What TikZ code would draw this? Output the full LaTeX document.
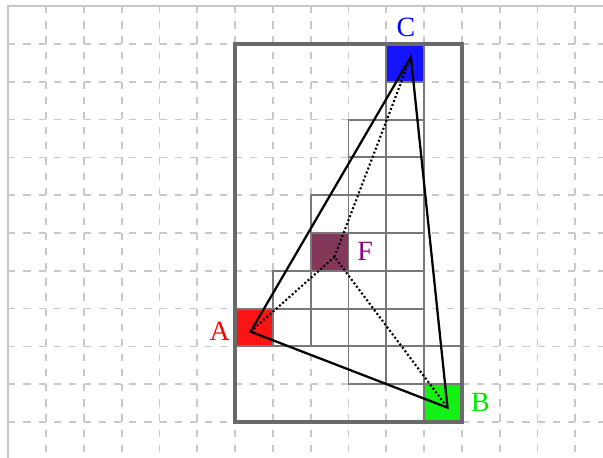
\documentclass[tikz,border=0pt]{standalone}
\usepackage{fontspec}
\setmainfont{Liberation Serif}
\definecolor{gridgray}{RGB}{200,200,200}
\definecolor{cellgray}{RGB}{120,120,120}
\definecolor{rectgray}{RGB}{105,105,105}
\definecolor{fillA}{RGB}{255,20,20}
\definecolor{fillB}{RGB}{20,240,20}
\definecolor{fillC}{RGB}{20,20,255}
\definecolor{fillF}{RGB}{131,56,90}
\definecolor{txtA}{RGB}{255,0,0}
\definecolor{txtB}{RGB}{0,230,0}
\definecolor{txtC}{RGB}{0,0,255}
\definecolor{txtF}{RGB}{140,0,140}
\begin{document}
\begin{tikzpicture}[x=1cm,y=-1cm,
  gridline/.style={draw=gridgray, line width=1.3pt, dash pattern=on 0.19cm off 0.21cm},
  border/.style={draw=gridgray, line width=1.6pt},
  cellbox/.style={draw=cellgray, line width=1.5pt},
  sq/.style={draw=cellgray, line width=1.5pt, minimum size=1cm, inner sep=0pt, outer sep=0pt},
  outer/.style={draw=rectgray, line width=2.8pt},
  tri/.style={draw=black, line width=1.7pt, line join=miter},
  dots/.style={draw=black, line width=1.6pt, dash pattern=on 1.5pt off 1.7pt},
  lbl/.style={font=\fontsize{21}{22}\selectfont, inner sep=0pt}
]
\useasboundingbox (-0.2196,-0.164) rectangle (15.733,11.952);
\begin{scope}
\clip (-0.2196,-0.164) rectangle (15.733,11.952);
\foreach \i in {1,...,15} \draw[gridline] (\i,0) -- (\i,12.5);
\foreach \j in {1,...,11} \draw[gridline] (0,\j) -- (16.5,\j);
\draw[border] (0,12.5) -- (0,0) -- (16.5,0);
\end{scope}
% grey cells
\foreach \a/\b in {10/2, 9/3, 10/3, 9/4, 10/4, 8/5, 9/5, 10/5, 9/6, 10/6,
  7/7, 8/7, 9/7, 10/7, 7/8, 8/8, 9/8, 10/8, 9/9, 10/9, 11/9}
  \draw[cellbox] (\a,\b) rectangle ++(1,1);
% coloured squares
\node[sq, fill=fillA] (sqA) at (6.5,8.5) {};
\node[sq, fill=fillB] (sqB) at (11.5,10.5) {};
\node[sq, fill=fillC] (sqC) at (10.5,1.5) {};
\node[sq, fill=fillF] (sqF) at (8.5,6.5) {};
% outer rectangle
\draw[outer] (6,1) rectangle (12,11);
% points
\coordinate (A) at (6.41,8.61);
\coordinate (B) at (11.62,10.62);
\coordinate (C) at (10.65,1.34);
\coordinate (F) at (8.63,6.63);
% triangle
\draw[tri] (A) -- (B) -- (C) -- cycle;
% dotted lines
\draw[dots] (A) -- (F) -- (B);
\draw[dots] (F) -- (C);
% labels
\node[lbl, text=txtA] (lA) at (5.59,8.59) {A};
\node[lbl, text=txtB] (lB) at (12.49,10.47) {B};
\node[lbl, text=txtC] (lC) at (10.52,0.55) {C};
\node[lbl, text=txtF] (lF) at (9.44,6.48) {F};
\end{tikzpicture}
\end{document}
